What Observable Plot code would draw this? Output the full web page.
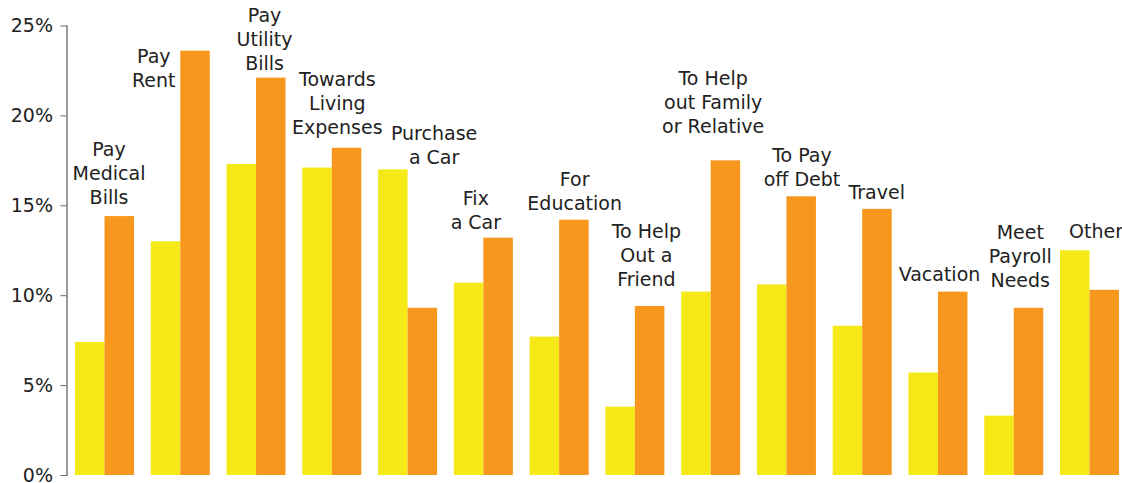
<!DOCTYPE html>
<html>
<head>
<meta charset="utf-8">
<script src="https://cdn.jsdelivr.net/npm/d3@7"></script>
<script src="https://cdn.jsdelivr.net/npm/@observablehq/plot@0.6"></script>
<style>
  html, body { margin: 0; padding: 0; background: #fff; }
  #chart { width: 1122px; height: 483px; }
</style>
</head>
<body>
<div id="chart"></div>
<script>
// Categories (multi-line labels as shown on the chart)
const categories = [
  "Pay\nMedical\nBills",
  "Pay\nRent",
  "Pay\nUtility\nBills",
  "Towards\nLiving\nExpenses",
  "Purchase\na Car",
  "Fix\na Car",
  "For\nEducation",
  "To Help\nOut a\nFriend",
  "To Help\nout Family\nor Relative",
  "To Pay\noff Debt",
  "Travel",
  "Vacation",
  "Meet\nPayroll\nNeeds",
  "Other"
];
// Series values (percent)
const yellowValues = [7.4, 13.0, 17.3, 17.1, 17.0, 10.7, 7.7, 3.8, 10.2, 10.6, 8.3, 5.7, 3.3, 12.5];
const orangeValues = [14.4, 23.6, 22.1, 18.2, 9.3, 13.2, 14.2, 9.4, 17.5, 15.5, 14.8, 10.2, 9.3, 10.3];
// Y tick values
const yTicks = [0, 5, 10, 15, 20, 25];

// ---- layout (not data): label nudges as placed in the original chart ----
// [horizontal nudge px, vertical gap px above tallest bar]
const labelNudge = [
  [4, 19], [-27, 0], [8, 15], [5, 21], [26, 12], [-8, 16], [15, 17],
  [11, 27], [2, 34], [15, 17], [14, 17], [1, 18], [6, 28], [6, 19]
];
// Labels that sit beside the bar group instead of above it
const labelsBeside = ["Pay\nRent"];

const yellow = "#F5E917";
const orange = "#F7971E";

const data = categories.map((c, i) => ({
  category: c,
  yellow: yellowValues[i],
  orange: orangeValues[i],
  top: Math.max(yellowValues[i], orangeValues[i])
}));

const half = 29.5;
const fs = 19;
const lh = 24 / 19;

const labelMarks = data.map((d, i) => {
  const [nx, gap] = labelNudge[i];
  if (labelsBeside.includes(d.category)) {
    return Plot.text([d], {x: "category", y: "orange", text: "category", lineAnchor: "top",
      dy: -5, dx: nx, fontSize: fs, lineHeight: lh, fill: "#222"});
  }
  return Plot.text([d], {x: "category", y: "top", text: "category", lineAnchor: "bottom",
    dy: -(gap - 6.5), dx: nx, fontSize: fs, lineHeight: lh, fill: "#222"});
});

const chart = Plot.plot({
  width: 1122,
  height: 483,
  marginLeft: 66.5,
  marginRight: 0,
  marginTop: 25.5,
  marginBottom: 8,
  style: {fontFamily: "'DejaVu Sans', Verdana, sans-serif", fontSize: "19px", color: "#222", background: "#fff", overflow: "visible"},
  x: {domain: categories, axis: null, round: false, paddingInner: 0.2213, paddingOuter: 0.0759, align: 0.74},
  y: {domain: [0, 25], axis: null},
  marks: [
    Plot.barY(data, {x: "category", y: "yellow", fill: yellow, insetRight: half, insetLeft: 0}),
    Plot.barY(data, {x: "category", y: "orange", fill: orange, insetLeft: half, insetRight: 0}),
    Plot.frame({anchor: "left", stroke: "#666", strokeWidth: 1.3}),
    Plot.axisY({ticks: yTicks, tickFormat: d => d + "%", tickSize: 6, tickPadding: 8, stroke: "#666", fill: "#222", fontSize: fs}),
    ...labelMarks
  ]
});
document.getElementById("chart").appendChild(chart);
</script>
</body>
</html>
